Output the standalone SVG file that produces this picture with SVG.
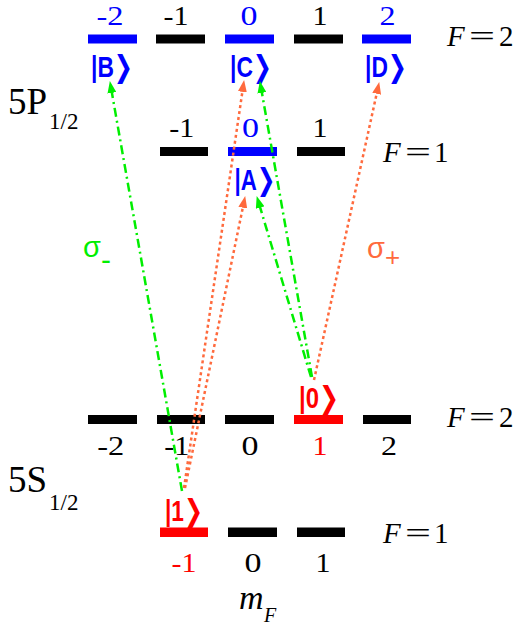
<svg xmlns="http://www.w3.org/2000/svg" width="515" height="627" viewBox="0 0 515 627">
<style>
.bar{stroke:none}
.blk{fill:#000}
.blu{fill:#0000ff}
.red{fill:#ff0000}
.num{font-family:"Liberation Serif","Times New Roman",serif;font-size:27px;text-anchor:middle}
.ser{font-family:"Liberation Serif","Times New Roman",serif;fill:#000}
.it{font-style:italic}
.ket{font-family:"Liberation Sans","DejaVu Sans",sans-serif;font-weight:bold;font-size:30px}
.sig{font-family:"Liberation Sans","DejaVu Sans",sans-serif;font-size:29px}
.g{stroke:#00ee00;stroke-width:2.5;fill:none;stroke-dasharray:9 4 2 4}
.o{stroke:#ff6a3d;stroke-width:2.5;fill:none;stroke-dasharray:3 3}
</style>
<defs>
<marker id="ag" markerUnits="userSpaceOnUse" markerWidth="12" markerHeight="9" viewBox="0 0 12 9" refX="3" refY="4.5" orient="auto"><path d="M0,0 L12,4.5 L0,9 z" fill="#00ee00"/></marker>
<marker id="ao" markerUnits="userSpaceOnUse" markerWidth="12" markerHeight="9" viewBox="0 0 12 9" refX="3" refY="4.5" orient="auto"><path d="M0,0 L12,4.5 L0,9 z" fill="#ff6a3d"/></marker>
</defs>

<g id="label-5P">
<text class="ser" x="8" y="114" font-size="37">5P</text>
<text class="ser" x="49" y="129" font-size="23">1/2</text>
</g>
<g id="label-5S">
<text class="ser" x="8" y="492" font-size="37">5S</text>
<text class="ser" x="49" y="510" font-size="23">1/2</text>
</g>

<g id="P-F2">
<rect id="P2m2" class="bar blu" x="88" y="34.5" width="49" height="9"/>
<rect id="P2m1" class="bar blk" x="156" y="34.5" width="49" height="9"/>
<rect id="P20" class="bar blu" x="225" y="34.5" width="49" height="9"/>
<rect id="P2p1" class="bar blk" x="294" y="34.5" width="49" height="9"/>
<rect id="P2p2" class="bar blu" x="362" y="34.5" width="49" height="9"/>
<text class="num blu" x="110" y="25" textLength="27" lengthAdjust="spacingAndGlyphs">-2</text>
<text class="num blk" x="176" y="25" textLength="25" lengthAdjust="spacingAndGlyphs">-1</text>
<text class="num blu" x="249" y="25" textLength="17" lengthAdjust="spacingAndGlyphs">0</text>
<text class="num blk" x="320" y="25" textLength="15" lengthAdjust="spacingAndGlyphs">1</text>
<text class="num blu" x="387.5" y="25" textLength="16" lengthAdjust="spacingAndGlyphs">2</text>
<text class="ser it" x="447" y="46" font-size="29">F</text>
<text class="ser" x="469" y="46" font-size="29" textLength="26" lengthAdjust="spacingAndGlyphs">=</text>
<text class="ser" x="499" y="46" font-size="29">2</text>
</g>

<g id="ket-B"><text class="ket blu" x="91" y="77" textLength="42" lengthAdjust="spacingAndGlyphs">|B❯</text></g>
<g id="ket-C"><text class="ket blu" x="230" y="77" textLength="42" lengthAdjust="spacingAndGlyphs">|C❯</text></g>
<g id="ket-D"><text class="ket blu" x="365" y="77" textLength="42" lengthAdjust="spacingAndGlyphs">|D❯</text></g>

<g id="P-F1">
<rect id="P1m1" class="bar blk" x="160" y="147" width="48" height="9"/>
<rect id="P10" class="bar blu" x="228" y="147" width="49" height="9"/>
<rect id="P1p1" class="bar blk" x="297" y="147" width="48" height="9"/>
<text class="num blk" x="181.7" y="137" textLength="25" lengthAdjust="spacingAndGlyphs">-1</text>
<text class="num blu" x="250.5" y="137" textLength="17" lengthAdjust="spacingAndGlyphs">0</text>
<text class="num blk" x="320" y="137" textLength="15" lengthAdjust="spacingAndGlyphs">1</text>
<text class="ser it" x="383" y="162" font-size="29">F</text>
<text class="ser" x="405" y="162" font-size="29" textLength="26" lengthAdjust="spacingAndGlyphs">=</text>
<text class="ser" x="434" y="162" font-size="29">1</text>
</g>
<g id="ket-A"><text class="ket blu" x="234.5" y="190" textLength="41" lengthAdjust="spacingAndGlyphs">|A❯</text></g>

<g id="S-F2">
<rect id="S2m2" class="bar blk" x="88" y="415" width="49" height="9"/>
<rect id="S2m1" class="bar blk" x="157" y="415" width="48" height="9"/>
<rect id="S20" class="bar blk" x="225" y="415" width="49" height="9"/>
<rect id="S2p1" class="bar red" x="294" y="415" width="49" height="9"/>
<rect id="S2p2" class="bar blk" x="363" y="415" width="48" height="9"/>
<text class="num blk" x="110.7" y="455" textLength="27" lengthAdjust="spacingAndGlyphs">-2</text>
<text class="num blk" x="176.7" y="455" textLength="25" lengthAdjust="spacingAndGlyphs">-1</text>
<text class="num blk" x="250" y="455" textLength="17" lengthAdjust="spacingAndGlyphs">0</text>
<text class="num red" x="320" y="455" textLength="15" lengthAdjust="spacingAndGlyphs">1</text>
<text class="num blk" x="389" y="455" textLength="16" lengthAdjust="spacingAndGlyphs">2</text>
<text class="ser it" x="447" y="427" font-size="29">F</text>
<text class="ser" x="469" y="427" font-size="29" textLength="26" lengthAdjust="spacingAndGlyphs">=</text>
<text class="ser" x="499" y="427" font-size="29">2</text>
</g>
<g id="ket-0"><text class="ket red" x="299" y="408" textLength="40" lengthAdjust="spacingAndGlyphs">|0❯</text></g>

<g id="S-F1">
<rect id="S1m1" class="bar red" x="160" y="527.5" width="48" height="9.5"/>
<rect id="S10" class="bar blk" x="228" y="527.5" width="49" height="9.5"/>
<rect id="S1p1" class="bar blk" x="297" y="527.5" width="48" height="9.5"/>
<text class="num red" x="184" y="572" textLength="25" lengthAdjust="spacingAndGlyphs">-1</text>
<text class="num blk" x="253" y="572" textLength="17" lengthAdjust="spacingAndGlyphs">0</text>
<text class="num blk" x="323" y="572" textLength="15" lengthAdjust="spacingAndGlyphs">1</text>
<text class="ser it" x="383" y="543" font-size="29">F</text>
<text class="ser" x="405" y="543" font-size="29" textLength="26" lengthAdjust="spacingAndGlyphs">=</text>
<text class="ser" x="434" y="543" font-size="29">1</text>
</g>
<g id="ket-1"><text class="ket red" x="165" y="521" textLength="38" lengthAdjust="spacingAndGlyphs">|1❯</text></g>

<g id="label-mF">
<text class="ser it" x="239" y="609" font-size="34">m</text>
<text class="ser it" x="264" y="622" font-size="20">F</text>
</g>

<g id="label-sigma-minus"><text class="sig" x="83" y="257" fill="#00ee00">σ<tspan font-size="30" dy="13">-</tspan></text></g>
<g id="label-sigma-plus"><text class="sig" x="367" y="258" fill="#ff6a3d">σ<tspan font-size="26" dy="8">+</tspan></text></g>

<g id="connectors">
<line class="g" x1="182" y1="491" x2="111.4" y2="89.9" marker-end="url(#ag)"/>
<line class="g" x1="312" y1="377" x2="261.4" y2="89.9" marker-end="url(#ag)"/>
<line class="g" x1="311" y1="377" x2="259.3" y2="204.7" marker-end="url(#ag)"/>
<line class="o" x1="184" y1="488" x2="242.8" y2="88.9" marker-end="url(#ao)"/>
<line class="o" x1="185" y1="488" x2="243.4" y2="204.8" marker-end="url(#ao)"/>
<line class="o" x1="314" y1="380" x2="377.3" y2="90.8" marker-end="url(#ao)"/>
</g>
</svg>
